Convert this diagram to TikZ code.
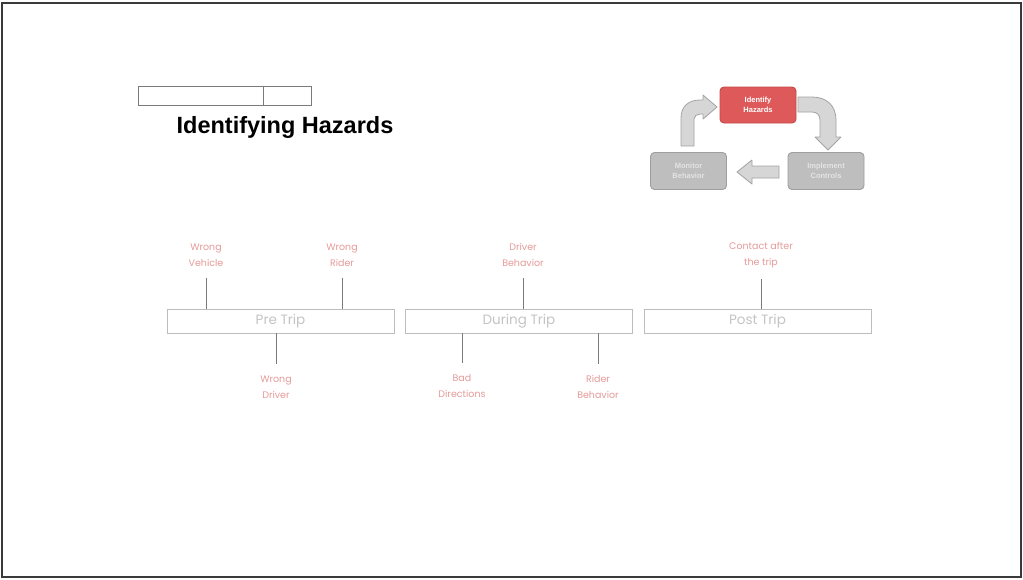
\documentclass[tikz,border=0pt]{standalone}
\usepackage{fontspec}
\setmainfont{Liberation Sans}
\newfontfamily\labfont{Poppins}
\definecolor{frame}{HTML}{3A3A3A}
\definecolor{labred}{HTML}{E69A9A}
\definecolor{boxline}{HTML}{BDBDBD}
\definecolor{boxtext}{HTML}{C4C4C4}
\definecolor{conn}{HTML}{7A7A7A}
\definecolor{hzred}{HTML}{DE5A5A}
\definecolor{hzredline}{HTML}{C54848}
\definecolor{cyc}{HTML}{BEBEBE}
\definecolor{cycline}{HTML}{9E9E9E}
\definecolor{cyctext}{HTML}{E4E4E4}
\definecolor{arrfill}{HTML}{D6D6D6}
\definecolor{arrline}{HTML}{A3A3A3}
\begin{document}
\begin{tikzpicture}[x=1pt,y=-1pt,
  phasebox/.style={draw=boxline,line width=0.8pt,minimum width=227pt,minimum height=24pt,inner sep=0pt,
    font=\labfont\fontsize{13.5}{16}\selectfont,text=boxtext},
  lab/.style={align=center,text=labred,font=\labfont\fontsize{9.5}{16}\selectfont,inner sep=0pt},
  conline/.style={draw=conn,line width=0.9pt},
  cycbox/.style={draw=cycline,fill=cyc,rounded corners=4pt,line width=0.9pt,minimum width=76pt,minimum height=37pt,
    inner sep=0pt,align=center,text=cyctext,font=\bfseries\fontsize{7.5}{10}\selectfont},
  blockarrow/.style={fill=arrfill,draw=arrline,line width=0.8pt,line join=round}]
\useasboundingbox (0,0) rectangle (1023,579);
\fill[white] (0,0) rectangle (1023,579);
\draw[frame,line width=2pt] (2,3) rectangle (1021,577);

% title
\node[draw=conn,line width=0.9pt,minimum width=173pt,minimum height=19pt,inner sep=0pt] (bar) at (224.5,95.5) {};
\draw[conn,line width=0.9pt] (bar.north west) ++(126,0) coordinate (bdiv) -- (bdiv |- bar.south);
\node[font=\bfseries\fontsize{23.5}{28}\selectfont,inner sep=0pt] (title) at (285,127.5) {Identifying Hazards};

% cycle
\node[cycbox,fill=hzred,draw=hzredline,text=white,minimum height=36pt] (ih) at (758,105) {Identify\\Hazards};
\node[cycbox] (ic) at (826,171) {Implement\\Controls};
\node[cycbox] (mb) at (688.5,171) {Monitor\\Behavior};
\path[blockarrow] (798,97) -- (812,97) .. controls (827,97) and (836,106) .. (836,120) -- (836,137) -- (841,137) -- (828,150) -- (815,137) -- (820,137) -- (820,120) .. controls (820,115) and (817,112) .. (812,112) -- (798,112) -- cycle;
\path[blockarrow] (779,166) -- (752,166) -- (752,160) -- (737,172) -- (752,184) -- (752,178) -- (779,178) -- cycle;
\path[blockarrow] (681,146) -- (681,118) .. controls (681,106) and (689,100) .. (700,100) -- (703,100) -- (703,95) -- (717,107) -- (703,119) -- (703,114) -- (700,114) .. controls (697,114) and (694,116) .. (694,119) -- (694,146) -- cycle;

% phases
\node[phasebox] (pre) at (280.5,321) {Pre Trip};
\node[phasebox] (dur) at (519,321) {During Trip};
\node[phasebox] (post) at (757.5,321) {Post Trip};

% labels
\node[lab] (wv) at (206,255) {Wrong\\Vehicle};
\node[lab] (wr) at (342,255) {Wrong\\Rider};
\node[lab] (wd) at (276,387) {Wrong\\Driver};
\node[lab] (db) at (523,255) {Driver\\Behavior};
\node[lab] (bd) at (462,386) {Bad\\Directions};
\node[lab] (rb) at (598,387) {Rider\\Behavior};
\node[lab] (ca) at (761,255) {Contact after\\the trip};

\draw[conline] ([yshift=-11pt]wv.south) -- (wv.south |- pre.north);
\draw[conline] ([yshift=-11pt]wr.south) -- (wr.south |- pre.north);
\draw[conline] (pre.south -| wd.north) -- ([yshift=11pt]wd.north);
\draw[conline] ([yshift=-11pt]db.south) -- (db.south |- dur.north);
\draw[conline] (dur.south -| bd.north) -- ([yshift=11pt]bd.north);
\draw[conline] (dur.south -| rb.north) -- ([yshift=11pt]rb.north);
\draw[conline] ([yshift=-11pt]ca.south) -- (ca.south |- post.north);
\end{tikzpicture}
\end{document}
